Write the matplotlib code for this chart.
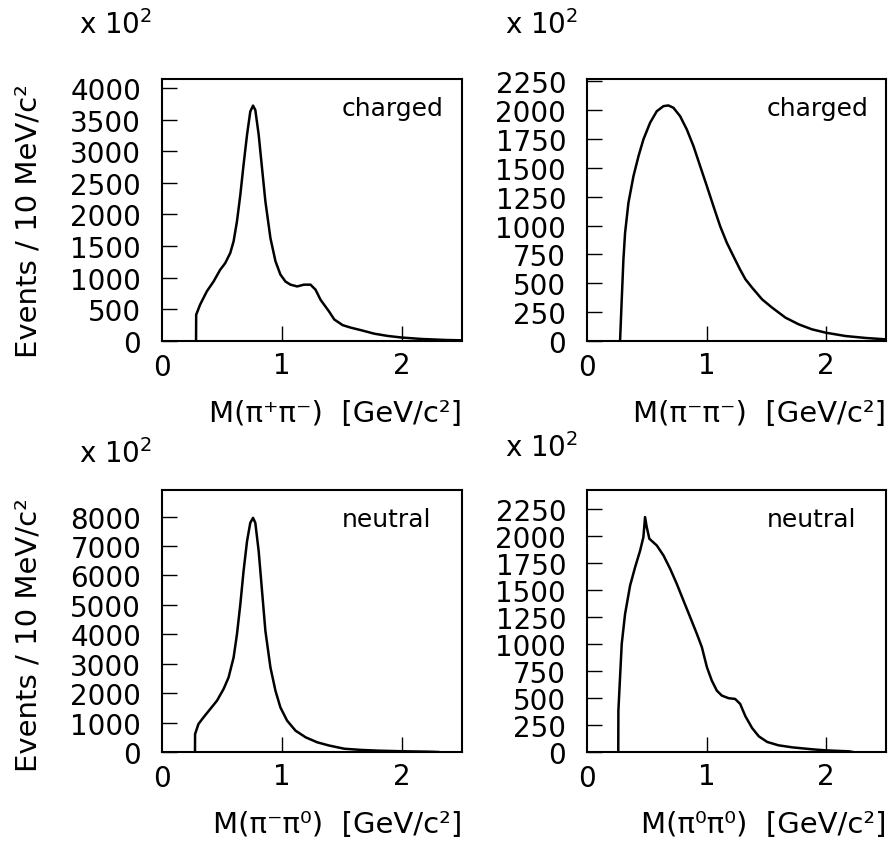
import numpy as np
import matplotlib.pyplot as plt

# M(pi+ pi-), charged
m_pm = [0.284, 0.285, 0.318, 0.374, 0.430, 0.485, 0.527, 0.569, 0.597, 0.625,
        0.653, 0.680, 0.709, 0.736, 0.759, 0.778, 0.806, 0.834, 0.862, 0.904,
        0.946, 0.987, 1.029, 1.071, 1.127, 1.183, 1.238, 1.280, 1.322, 1.392,
        1.436, 1.506, 1.575, 1.660, 1.770, 1.880, 1.995, 2.160, 2.360, 2.500]
n_pm = [0, 415, 575, 785, 940, 1125, 1230, 1390, 1575, 1890,
        2310, 2785, 3260, 3625, 3720, 3650, 3260, 2730, 2205, 1625,
        1260, 1050, 940, 890, 862, 890, 890, 810, 650, 468,
        340, 250, 210, 170, 115, 80, 55, 32, 16, 10]

# M(pi- pi-), charged
m_mm = [0.276, 0.290, 0.304, 0.318, 0.346, 0.388, 0.430, 0.471, 0.527, 0.583,
        0.639, 0.680, 0.722, 0.778, 0.834, 0.890, 0.946, 1.002, 1.057, 1.113,
        1.169, 1.224, 1.280, 1.324, 1.380, 1.463, 1.547, 1.659, 1.770, 1.880,
        1.995, 2.160, 2.330, 2.500]
n_mm = [0, 358, 705, 937, 1197, 1428, 1601, 1746, 1891, 1991,
        2035, 2041, 2021, 1948, 1833, 1688, 1514, 1341, 1167, 994,
        850, 734, 618, 535, 462, 361, 289, 202, 144, 101,
        72, 43, 26, 14]

# M(pi- pi0), neutral
m_m0 = [0.275, 0.276, 0.304, 0.346, 0.402, 0.458, 0.513, 0.555, 0.597, 0.625,
        0.653, 0.680, 0.709, 0.736, 0.759, 0.778, 0.806, 0.834, 0.862, 0.904,
        0.946, 0.987, 1.043, 1.113, 1.197, 1.294, 1.392, 1.520, 1.660, 1.800,
        1.995, 2.220, 2.300]
n_m0 = [0, 610, 950, 1176, 1458, 1740, 2136, 2532, 3210, 4000,
        5017, 6146, 7163, 7785, 7955, 7785, 6824, 5468, 4112, 2871,
        2080, 1515, 1064, 725, 499, 329, 220, 110, 70, 45,
        25, 10, 0]

# M(pi0 pi0), neutral
m_00 = [0.261, 0.262, 0.276, 0.290, 0.318, 0.360, 0.402, 0.444, 0.471, 0.485,
        0.499, 0.521, 0.583, 0.639, 0.695, 0.750, 0.806, 0.862, 0.918, 0.960,
        1.002, 1.043, 1.085, 1.127, 1.183, 1.238, 1.280, 1.324, 1.380, 1.436,
        1.506, 1.600, 1.715, 1.880, 1.995, 2.190, 2.220]
n_00 = [0, 384, 694, 1003, 1281, 1544, 1715, 1869, 1993, 2179,
        2086, 1978, 1916, 1823, 1699, 1560, 1405, 1251, 1096, 972,
        787, 662, 569, 523, 499, 492, 446, 331, 222, 145,
        93, 62, 43, 25, 15, 6, 0]

panels = [
    (m_pm, n_pm, 4140, np.arange(0, 4001, 500), "charged", "M(π⁺π⁻)  [GeV/c²]", True),
    (m_mm, n_mm, 2270, np.arange(0, 2251, 250), "charged", "M(π⁻π⁻)  [GeV/c²]", False),
    (m_m0, n_m0, 8900, np.arange(0, 8001, 1000), "neutral", "M(π⁻π⁰)  [GeV/c²]", True),
    (m_00, n_00, 2430, np.arange(0, 2251, 250), "neutral", "M(π⁰π⁰)  [GeV/c²]", False),
]
positions = [
    [0.182, 0.5953, 0.337, 0.310],
    [0.6596, 0.5953, 0.336, 0.310],
    [0.182, 0.1089, 0.337, 0.310],
    [0.6596, 0.1089, 0.336, 0.310],
]
exp_y = [1.21, 1.21, 1.141, 1.164]
label_y = [0.46, 0.46, 0.45, 0.45]

plt.rcParams['font.family'] = ['DejaVu Sans']
fig = plt.figure(figsize=(8.9, 8.45), dpi=100)

for i, (m, n, ytop, yt, tag, xlab, left) in enumerate(panels):
    ax = fig.add_axes(positions[i])
    ax.plot(m, n, color='black', lw=1.8, solid_joinstyle='round')
    ax.set_xlim(0, 2.5)
    ax.set_ylim(0, ytop)
    ax.set_xticks([1, 2])
    ax.set_yticks(yt)
    ax.set_yticklabels([str(v) for v in yt])
    ax.tick_params(axis='y', direction='in', length=11, width=1, labelsize=20, pad=15)
    ax.tick_params(axis='x', direction='in', length=11, width=1, labelsize=20, pad=7)
    for s in ax.spines.values():
        s.set_linewidth(1.5)
    # the 0 label sits on the spine in the original
    ax.text(0, -0.045, "0", transform=ax.get_xaxis_transform(), ha='center', va='top', fontsize=20)
    ax.text(0.6, 0.89, tag, transform=ax.transAxes, ha='left', va='center', fontsize=18)
    ax.text(1.0, -0.275, xlab, transform=ax.transAxes, ha='right', va='center', fontsize=21)
    ax.text(-0.275, exp_y[i], r"x 10$^{2}$", transform=ax.transAxes, ha='left', va='center', fontsize=20)
    if left:
        ax.set_ylabel("Events / 10 MeV/c²", fontsize=21)
        ax.yaxis.set_label_coords(-0.40, label_y[i])

fig.savefig("out.png", dpi=100)
